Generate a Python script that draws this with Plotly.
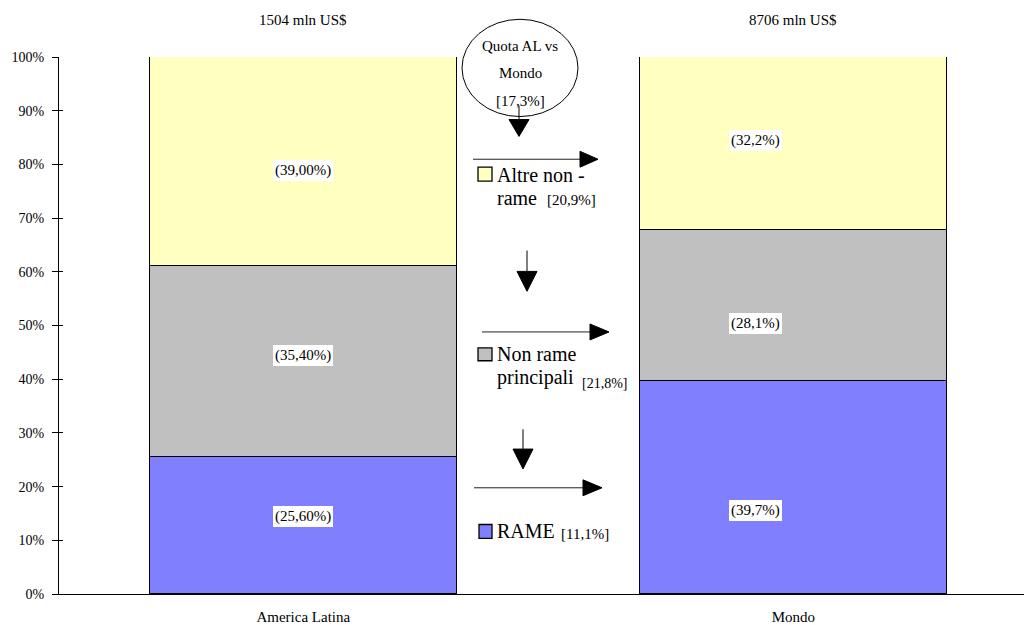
import plotly.graph_objects as go

# ---------------- data ----------------
categories = ["America Latina", "Mondo"]
totals_label = ["1504 mln US$", "8706 mln US$"]
series_names = ["RAME", "Non rame principali", "Altre non - rame"]
rame = [25.6, 39.7]
non_rame_principali = [35.4, 28.1]
altre_non_rame = [39.0, 32.2]
label_decimals = [2, 1]
quota_al = 17.3
quota_rame = 11.1
quota_non_rame = 21.8
quota_altre = 20.9
y_ticks = [0, 10, 20, 30, 40, 50, 60, 70, 80, 90, 100]

colors = ["#8080FF", "#C0C0C0", "#FFFFC0"]
FONT = "Liberation Serif, Times New Roman, serif"

# ---------------- geometry helpers (pixel -> paper) ----------------
W, H = 1024, 625
ML, MR, MT, MB = 59, 0, 57, 27
PX_PER_UNIT = 490.0
CX0 = 303.3
plot_w = W - ML - MR
plot_h = H - MT - MB
x_lo = -(CX0 - ML) / PX_PER_UNIT
x_hi = x_lo + plot_w / PX_PER_UNIT


def X(px):
    return (px - ML) / plot_w


def Y(py):
    return (H - MB - py) / plot_h


def fmt(v, d):
    return "(" + f"{v:.{d}f}".replace(".", ",") + "%)"


xs = list(range(len(categories)))
series = [rame, non_rame_principali, altre_non_rame]

fig = go.Figure()
for name, vals, col in zip(series_names, series, colors):
    fig.add_trace(go.Bar(
        x=xs, y=vals, name=name, width=0.626,
        marker=dict(color=col, line=dict(color="black", width=1)),
        showlegend=False, hoverinfo="skip",
    ))

# hidden trace for overlay axis (inside ticks)
fig.add_trace(go.Scatter(x=[xs[0]], y=[0], yaxis="y2", mode="markers",
                         marker=dict(opacity=0), showlegend=False, hoverinfo="skip"))

annotations = []
shapes = []


def txt(t, px, py, size, xanchor="center", **kw):
    d = dict(x=X(px), y=Y(py), xref="paper", yref="paper", text=t, showarrow=False,
             xanchor=xanchor, yanchor="middle",
             font=dict(family=FONT, size=size, color="black"))
    d.update(kw)
    annotations.append(d)


# bar value labels (white boxes)
label_px_x = [[CX0, CX0, CX0], [755, 755, 755]]
label_px_y = [[520, 358, 171.5], [514, 325, 141]]
for ci in xs:
    for si, vals in enumerate(series):
        txt(fmt(vals[ci], label_decimals[ci]), label_px_x[ci][si], label_px_y[ci][si], 15,
            bgcolor="white", borderpad=2, borderwidth=0)

# totals above bars
for ci in xs:
    txt(totals_label[ci], CX0 + ci * PX_PER_UNIT, 20, 15)

# ellipse with quota text
shapes.append(dict(type="circle", xref="paper", yref="paper",
                   x0=X(462), x1=X(578), y0=Y(117), y1=Y(19),
                   line=dict(color="black", width=1), fillcolor="white", layer="above"))
quota_lines = ["Quota AL vs", "Mondo", "[" + f"{quota_al:.1f}".replace(".", ",") + "%]"]
for t, py in zip(quota_lines, [46, 73, 101]):
    txt(t, 520, py, 15)


def varrow(px, y_top, y_head, y_tip, half=10):
    shapes.append(dict(type="line", xref="paper", yref="paper", x0=X(px), x1=X(px),
                       y0=Y(y_top), y1=Y(y_head), line=dict(color="black", width=1)))
    shapes.append(dict(type="path", xref="paper", yref="paper",
                       path=f"M {X(px-half)} {Y(y_head)} L {X(px+half)} {Y(y_head)} L {X(px)} {Y(y_tip)} Z",
                       fillcolor="black", line=dict(color="black", width=1)))


def harrow(py, x_start, x_head, x_tip, half=8):
    shapes.append(dict(type="line", xref="paper", yref="paper", x0=X(x_start), x1=X(x_head),
                       y0=Y(py), y1=Y(py), line=dict(color="#222", width=1)))
    shapes.append(dict(type="path", xref="paper", yref="paper",
                       path=f"M {X(x_head)} {Y(py-half)} L {X(x_head)} {Y(py+half)} L {X(x_tip)} {Y(py)} Z",
                       fillcolor="black", line=dict(color="black", width=1)))


varrow(519, 106, 120, 137)
harrow(160, 473, 580, 598)
varrow(527, 252, 273, 293)
harrow(334, 482, 590, 609)
varrow(523, 432, 452, 472)
harrow(491, 474, 583, 602)

# legend-like squares and texts
sq = [(479, 528, 492, 542), (478, 350, 492, 363), (478, 168, 492, 182)]
for (x0, y0, x1, y1), col in zip(sq, colors):
    shapes.append(dict(type="rect", xref="paper", yref="paper", x0=X(x0), x1=X(x1), y0=Y(y1), y1=Y(y0),
                       fillcolor=col, line=dict(color="black", width=1.3)))


def pct(v):
    return "[" + f"{v:.1f}".replace(".", ",") + "%]"


texts = [
    ("Altre non -", 495, 176, 20),
    ("rame", 495, 199, 20),
    (pct(quota_altre), 545, 201, 15),
    ("Non rame", 495, 356, 20),
    ("principali", 495, 380, 20),
    (pct(quota_non_rame), 580, 386, 14),
    ("RAME", 495, 535, 20),
    (pct(quota_rame), 559, 538, 15),
]
for t, px, py, sz in texts:
    txt(t, px, py, sz, xanchor="left")

fig.update_layout(
    width=W, height=H,
    margin=dict(l=ML, r=MR, t=MT, b=MB, pad=0),
    paper_bgcolor="white", plot_bgcolor="white",
    barmode="stack", bargap=0,
    font=dict(family=FONT, size=14, color="black"),
    xaxis=dict(range=[x_lo, x_hi], tickvals=xs, ticktext=categories,
               tickfont=dict(family=FONT, size=15, color="black"),
               showline=True, linecolor="black", linewidth=1,
               ticks="outside", ticklen=9, tickcolor="rgba(0,0,0,0)",
               showgrid=False, zeroline=False, fixedrange=True),
    yaxis=dict(range=[0, 100], tickvals=y_ticks, ticktext=[f"{v}%" for v in y_ticks],
               showline=True, linecolor="black", linewidth=1,
               ticks="outside", ticklen=6, tickcolor="black", ticklabelstandoff=5,
               showgrid=False, zeroline=False, fixedrange=True),
    yaxis2=dict(range=[0, 100], overlaying="y", side="left", anchor="x",
                tickvals=y_ticks, ticks="inside", ticklen=4, tickcolor="black",
                showticklabels=False, showline=False, showgrid=False, zeroline=False),
    annotations=annotations, shapes=shapes,
    showlegend=False,
)

fig.write_html("out.html", config={"displayModeBar": False})
